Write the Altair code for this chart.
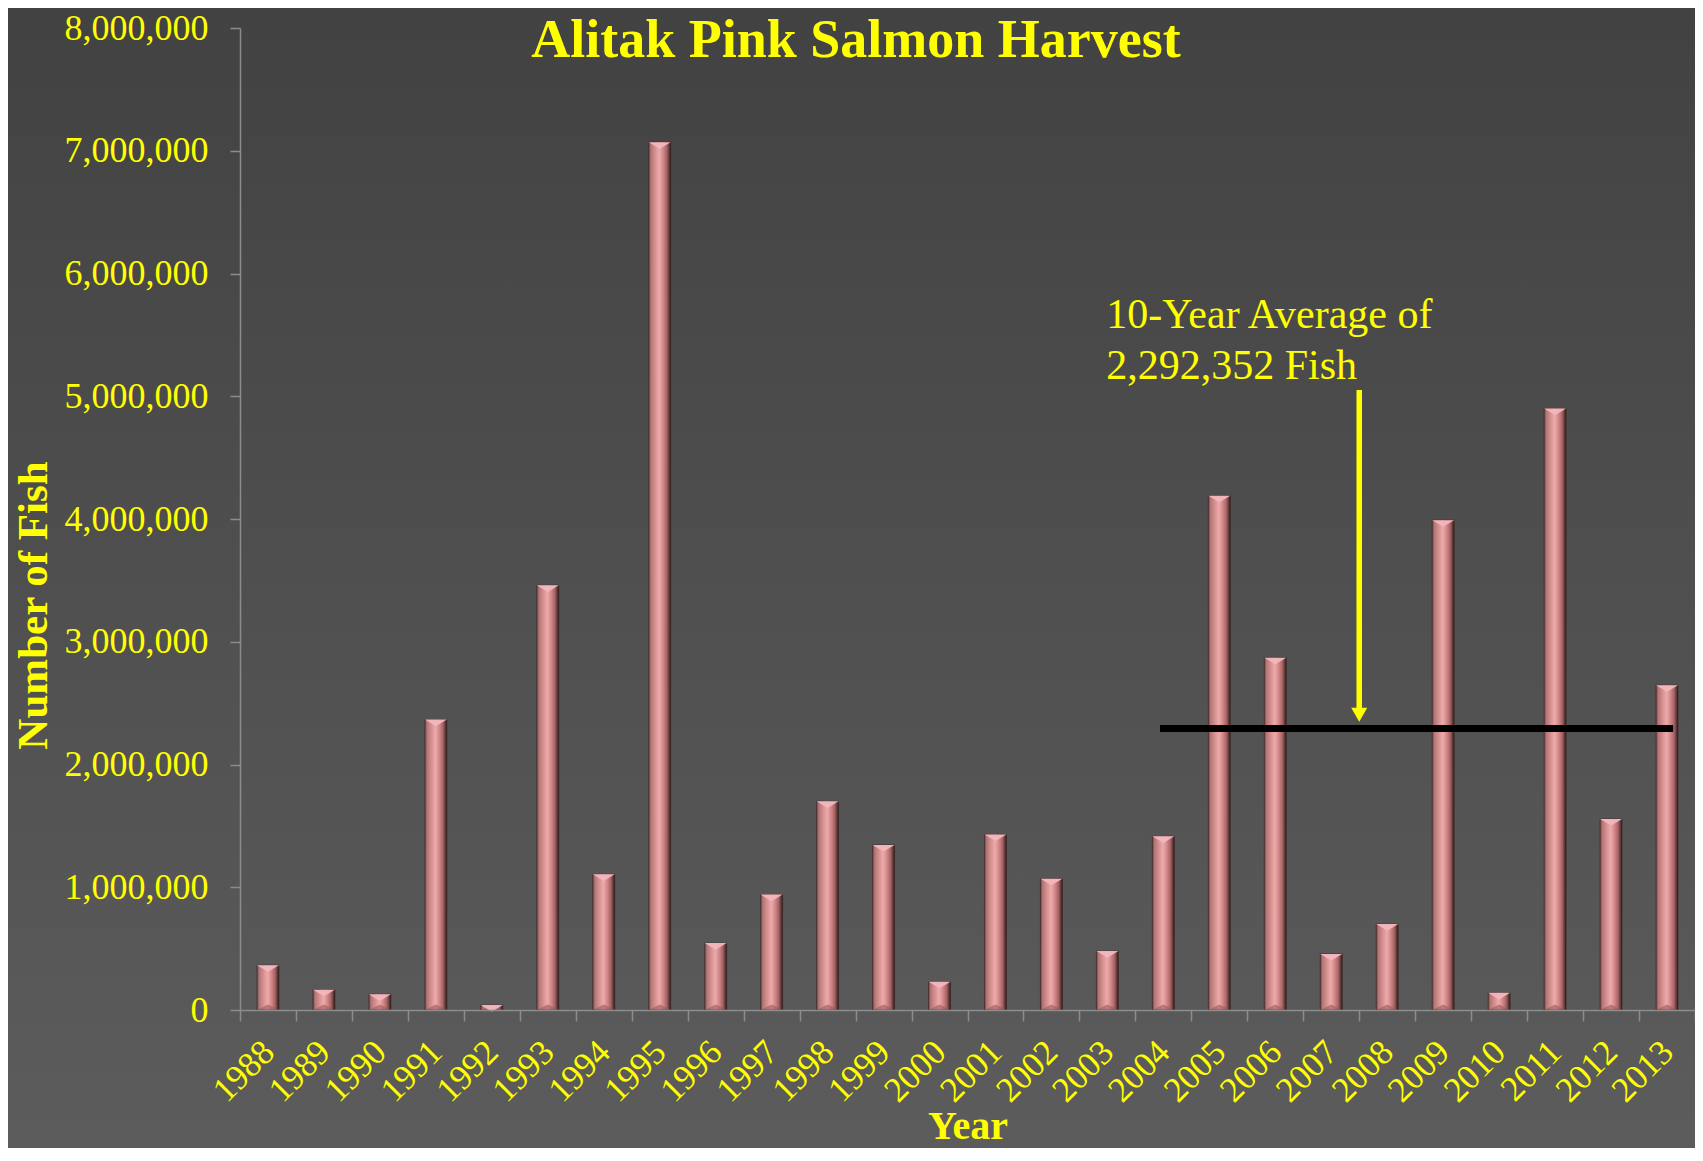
import altair as alt
import pandas as pd

# ---------------- data ----------------
years = [str(y) for y in range(1988, 2014)]
harvest = [365000, 165000, 128000, 2366000, 40000, 3460000, 1105000, 7070000,
           545000, 940000, 1700000, 1345000, 230000, 1430000, 1070000, 480000,
           1415000, 4190000, 2870000, 457000, 700000, 3990000, 140000, 4900000,
           1556000, 2646000]
ten_year_avg = 2292352
avg_start_year = "2004"
avg_end_year = "2013"
y_ticks = [0, 1000000, 2000000, 3000000, 4000000, 5000000, 6000000, 7000000, 8000000]
title_text = "Alitak Pink Salmon Harvest"
annotation_text = "10-Year Average of\n2,292,352 Fish"
arrow_year = "2008"
arrow_top = 5050000
arrow_shaft_end = 2450000
arrow_tip = 2348000
annotation_y = 5560000

# ---------------- layout / style ----------------
W, H = 1455, 982
PAD = {"left": 232, "top": 20, "right": 0, "bottom": 138}
FONT = "Liberation Serif"
YELLOW = "#ffff00"
AXIS_GRAY = "#8c8c8c"

bars_df = pd.DataFrame({"Year": years, "Fish": harvest})
avg_df = pd.DataFrame({"Year": [avg_start_year], "YearEnd": [avg_end_year], "Avg": [ten_year_avg]})
arrow_df = pd.DataFrame({"Year": [arrow_year], "Top": [arrow_top], "End": [arrow_shaft_end],
                         "Tip": [arrow_tip], "AnnY": [annotation_y], "Label": [annotation_text]})
bg_df = pd.DataFrame({"k": [0]})
title_df = pd.DataFrame({"t": [title_text]})

bg_grad = alt.Gradient(
    gradient="linear",
    stops=[alt.GradientStop(offset=0, color="#424242"),
           alt.GradientStop(offset=1, color="#5c5c5c")],
    x1=0, x2=0, y1=0, y2=1,
)
bar_grad = alt.Gradient(
    gradient="linear",
    stops=[alt.GradientStop(offset=0.0, color="#6a4444"),
           alt.GradientStop(offset=0.1, color="#b57676"),
           alt.GradientStop(offset=0.32, color="#d99494"),
           alt.GradientStop(offset=0.48, color="#eeaaab"),
           alt.GradientStop(offset=0.64, color="#d48c8c"),
           alt.GradientStop(offset=0.82, color="#a86464"),
           alt.GradientStop(offset=0.93, color="#5e3838"),
           alt.GradientStop(offset=1.0, color="#2c1a1a")],
    x1=0, x2=1, y1=0, y2=0,
)

x_axis = alt.Axis(
    title="Year", labelAngle=315, labelAlign="right", labelBaseline="middle",
    labelFont=FONT, labelFontSize=35, labelColor=YELLOW, labelPadding=25,
    labelOverlap=False, tickBand="extent", tickSize=11, tickColor=AXIS_GRAY,
    tickWidth=1.5, domainColor=AXIS_GRAY, domainWidth=1.5, grid=False,
    titleFont=FONT, titleFontSize=40, titleFontWeight="bold", titleColor=YELLOW,
    titleY=128, titleBaseline="alphabetic", zindex=1,
)
y_axis = alt.Axis(
    title="Number of Fish", values=y_ticks, format=",d",
    labelFont=FONT, labelFontSize=36, labelColor=YELLOW, labelPadding=22,
    labelOverlap=False, tickSize=10, tickColor=AXIS_GRAY, tickWidth=1.5,
    domainColor=AXIS_GRAY, domainWidth=1.5, grid=False,
    titleFont=FONT, titleFontSize=43, titleFontWeight="bold", titleColor=YELLOW,
    titleAngle=270, titleX=-194, titleY=577, titleBaseline="alphabetic",
    titleAlign="center", zindex=1,
)

x_enc = alt.X("Year:N", sort=years,
              scale=alt.Scale(domain=years, paddingInner=0, paddingOuter=0),
              axis=x_axis)
y_enc = alt.Y("Fish:Q", scale=alt.Scale(domain=[0, 8000000], nice=False, zero=True),
              axis=y_axis)

background = alt.Chart(bg_df).mark_rect(color=bg_grad).encode(
    x=alt.value(-PAD["left"]), x2=alt.value(W + PAD["right"]),
    y=alt.value(-PAD["top"]), y2=alt.value(H + PAD["bottom"]),
)

bars = alt.Chart(bars_df).mark_bar(size=22, color=bar_grad, stroke="#3a2424",
                                    strokeWidth=0.6).encode(x=x_enc, y=y_enc)

top_bevel = alt.Chart(bars_df).mark_point(
    shape="M-1,0L1,0L0,0.6Z", size=484, filled=True, color="#f2b6bd",
    opacity=0.95, strokeWidth=0,
).encode(x=alt.X("Year:N", sort=years), y=alt.Y("Fish:Q"))

bottom_bevel = alt.Chart(bars_df).mark_point(
    shape="M-1,0L1,0L0,-0.5Z", size=484, filled=True, color="#9a5050",
    opacity=0.55, strokeWidth=0,
).encode(x=alt.X("Year:N", sort=years), y=alt.datum(0))

avg_line = alt.Chart(avg_df).mark_rule(color="black", strokeWidth=7, strokeCap="butt").encode(
    x=alt.X("Year:N", sort=years, bandPosition=0.44),
    x2=alt.X2("YearEnd", bandPosition=0.61),
    y=alt.Y("Avg:Q"),
)

arrow_shaft = alt.Chart(arrow_df).mark_rule(color=YELLOW, strokeWidth=5.5, strokeCap="butt").encode(
    x=alt.X("Year:N", sort=years, bandPosition=0),
    y=alt.Y("Top:Q"), y2=alt.Y2("End"),
)
arrow_head = alt.Chart(arrow_df).mark_point(
    shape="M-1,-1.75L1,-1.75L0,0Z", size=256, filled=True, color=YELLOW,
    opacity=1, strokeWidth=0,
).encode(x=alt.X("Year:N", sort=years, bandPosition=0), y=alt.Y("Tip:Q"))

annotation = alt.Chart(arrow_df).mark_text(
    align="left", baseline="alphabetic", dx=-253, font=FONT, fontSize=42,
    color=YELLOW, lineBreak="\n", lineHeight=51,
).encode(x=alt.X("Year:N", sort=years, bandPosition=0), y=alt.Y("AnnY:Q"), text="Label:N")

title = alt.Chart(title_df).mark_text(
    align="center", baseline="alphabetic", font=FONT, fontSize=54,
    fontWeight="bold", color=YELLOW,
).encode(x=alt.value(616), y=alt.value(29), text="t:N")

chart = alt.layer(
    background, bars, bottom_bevel, top_bevel, avg_line, arrow_shaft, arrow_head,
    annotation, title,
).properties(
    width=W, height=H, padding=PAD,
    autosize=alt.AutoSizeParams(type="none"),
    background="#4e4e4e",
).configure_view(stroke=None)

chart.save("out.html", embed_options={"renderer": "svg", "actions": False})
